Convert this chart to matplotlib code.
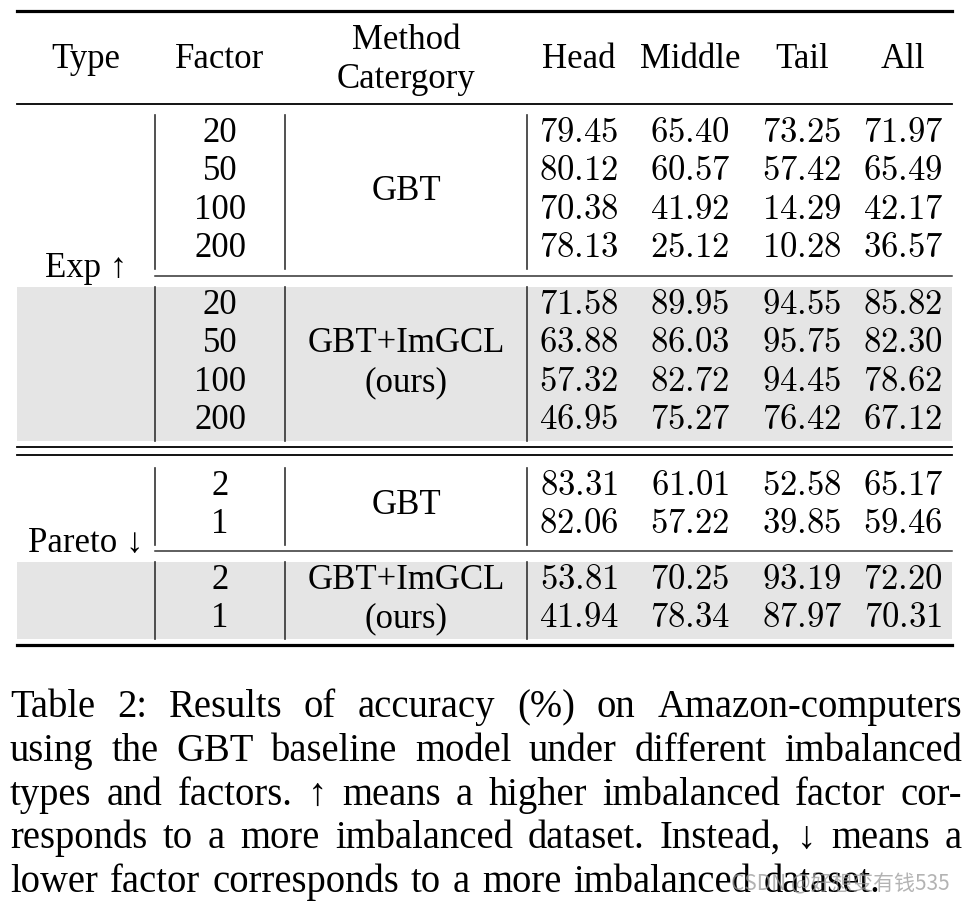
import matplotlib.pyplot as plt
import numpy as np

plt.rcParams['mathtext.fontset'] = 'cm'
serif = ['Liberation Serif', 'DejaVu Serif']

# Datos de la tabla
columns = ['Head', 'Middle', 'Tail', 'All']
exp_factors = ['20', '50', '100', '200']
exp_gbt = [[79.45, 65.40, 73.25, 71.97],
           [80.12, 60.57, 57.42, 65.49],
           [70.38, 41.92, 14.29, 42.17],
           [78.13, 25.12, 10.28, 36.57]]
exp_ours = [[71.58, 89.95, 94.55, 85.82],
            [63.88, 86.03, 95.75, 82.30],
            [57.32, 82.72, 94.45, 78.62],
            [46.95, 75.27, 76.42, 67.12]]
pareto_factors = ['2', '1']
pareto_gbt = [[83.31, 61.01, 52.58, 65.17],
              [82.06, 57.22, 39.85, 59.46]]
pareto_ours = [[53.81, 70.25, 93.19, 72.20],
               [41.94, 78.34, 87.97, 70.31]]
caption = ['Table 2: Results of accuracy (%) on Amazon-computers',
           'using the GBT baseline model under different imbalanced',
           'types and factors. \u2191 means a higher imbalanced factor cor-',
           'responds to a more imbalanced dataset. Instead, \u2193 means a',
           'lower factor corresponds to a more imbalanced dataset.']

# Posiciones (en pixeles)
W, H = 967, 904
x_left, x_right = 17, 952
x_type, x_factor, x_method = 86, 220, 406
col_x = [579, 690, 802, 903]
vlines_x = [155, 285, 527]
step = 38.5
fs = 25

fig = plt.figure(figsize=(W / 100, H / 100), dpi=100)
ax = fig.add_axes([0, 0, 1, 1])
ax.set_xlim(0, W)
ax.set_ylim(H, 0)
ax.axis('off')


def txt(x, y, s, size=fs, ha='center', **kw):
    return ax.text(x, y, s, ha=ha, va='baseline', fontsize=size, family=serif, **kw)


def draw_block(factors, rows, method, y0, shaded):
    ys = y0 + step * np.arange(len(rows))
    top, bottom = ys[0] - 26, ys[-1] + 12
    if shaded:
        ax.fill_between([x_left, x_right], top, bottom, color='#e5e5e5', lw=0, zorder=0)
    for x in vlines_x:
        ax.plot([x, x], [top, bottom], color='#333333', lw=1.2)
    for f, y, vals in zip(factors, ys, rows):
        txt(x_factor, y, f)
        for x, v in zip(col_x, vals):
            ax.text(x, y, '$%.2f$' % v, ha='center', va='baseline', fontsize=fs)
    mid = ys.mean()
    lines = method.split('\n')
    for k, line in enumerate(lines):
        txt(x_method, mid + (k - (len(lines) - 1) / 2) * step, line)


# Reglas
ax.plot([x_left, x_right], [12, 12], color='black', lw=2.3)
ax.plot([x_left, x_right], [105, 105], color='black', lw=1.3)
ax.plot([x_left, x_right], [448, 448], color='black', lw=1.3)
ax.plot([x_left, x_right], [456, 456], color='black', lw=1.3)
ax.plot([x_left, x_right], [646, 646], color='black', lw=2.3)
ax.plot([vlines_x[0], x_right], [277, 277], color='#333333', lw=1.1)
ax.plot([vlines_x[0], x_right], [552, 552], color='#333333', lw=1.1)

# Encabezado
txt(x_type, 68, 'Type')
txt(x_factor, 68, 'Factor')
txt(x_method, 49, 'Method')
txt(x_method, 88, 'Catergory')
for x, c in zip(col_x, columns):
    txt(x, 68, c)

draw_block(exp_factors, exp_gbt, 'GBT', 142, False)
draw_block(exp_factors, exp_ours, 'GBT+ImGCL\n(ours)', 314, True)
draw_block(pareto_factors, pareto_gbt, 'GBT', 495, False)
draw_block(pareto_factors, pareto_ours, 'GBT+ImGCL\n(ours)', 589, True)

txt(x_type, 277, 'Exp \u2191')
txt(x_type, 552, 'Pareto \u2193')

# Pie de tabla (justificado)
renderer = fig.canvas.get_renderer()
cap_x0, cap_x1 = 10, 962
cap_y = [717, 761, 805, 848, 892]
for i, (line, y) in enumerate(zip(caption, cap_y)):
    words = line.split(' ')
    objs = [txt(0, y, w, size=27.8, ha='left') for w in words]
    widths = [o.get_window_extent(renderer).width for o in objs]
    if i < len(caption) - 1:
        gap = (cap_x1 - cap_x0 - sum(widths)) / (len(words) - 1)
    else:
        gap = 12
    x = cap_x0
    for o, w in zip(objs, widths):
        o.set_x(x)
        x += w + gap

# Marca de agua
ax.text(950, 884, 'CSDN @好想变有钱535', ha='right', va='center', fontsize=15,
        family=['Noto Sans CJK SC', 'DejaVu Sans'], color='#9a9a9a', alpha=0.75)

fig.savefig('out.png', dpi=100)
